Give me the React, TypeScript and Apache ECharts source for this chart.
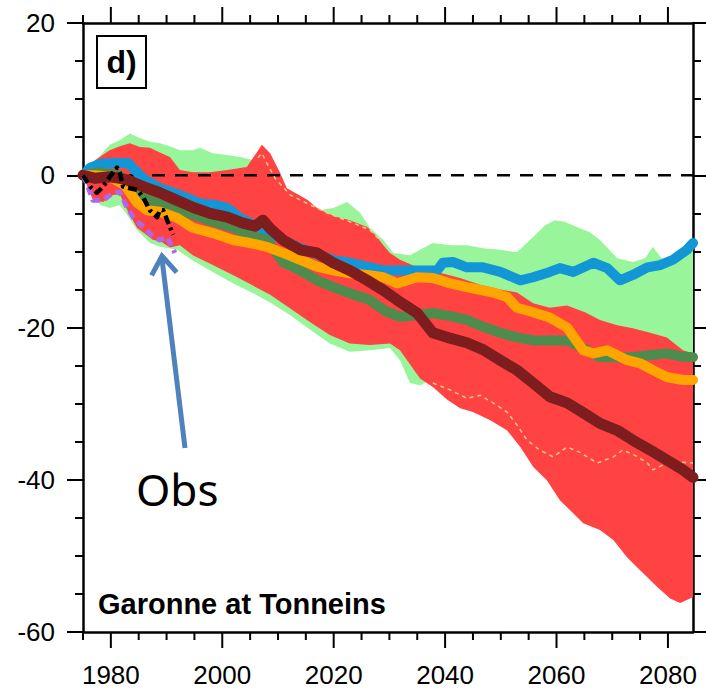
import React, { useEffect, useRef } from "react";
import * as echarts from "echarts";

type P = [number, number];

const X_MIN = 1975;
const X_MAX = 2084.5;
const Y_MIN = -60;
const Y_MAX = 20;
const X_MAJOR = [1980, 2000, 2020, 2040, 2060, 2080];
const X_MINOR = [1975, 1985, 1990, 1995, 2005, 2010, 2015, 2025, 2030, 2035, 2045, 2050, 2055, 2065, 2070, 2075];

const greenUpper: P[] = [
  [1975, 0], [1976.3, 0.7], [1978.1, 2.6], [1979.8, 4.0], [1981.6, 4.6], [1983.4, 5.5], [1985.2, 4.9],
  [1987.0, 4.4], [1988.8, 4.2], [1990.6, 3.8], [1992.4, 3.3], [1994.7, 3.3], [1996.0, 3.6], [1998.3, 2.9],
  [2000.5, 2.7], [2003.2, 2.4], [2005.5, 2.0], [2007.1, 2.0], [2008.6, 1.3], [2010.4, -0.4], [2011.6, -2.3],
  [2013.4, -3.0], [2015.4, -3.5], [2017.5, -4.6], [2019.9, -4.3], [2022.4, -3.5], [2024.7, -4.9],
  [2026.5, -6.9], [2028.9, -8.5], [2030.7, -10.2], [2033.7, -10.5], [2035.5, -9.8], [2037.8, -8.9],
  [2040.9, -9.2], [2043.9, -9.2], [2046.8, -9.6], [2049.9, -9.8], [2052.9, -10.1], [2055.8, -8.1],
  [2057.9, -6.6], [2059.7, -5.9], [2061.5, -6.1], [2063.3, -6.7], [2066.0, -7.5], [2067.8, -8.5],
  [2070.9, -10.9], [2073.7, -11.4], [2075.9, -10.9], [2077.3, -9.4], [2078.6, -10.7], [2079.8, -11.4],
  [2082.2, -10.5], [2084.5, -9.2],
];

const greenLower: P[] = [
  [1975, 0], [1976.3, -1.9], [1978.1, -3.9], [1979.8, -4.3], [1981.6, -3.9], [1982.9, -5.2], [1984.7, -7.2],
  [1987.0, -8.9], [1988.8, -9.4], [1991.9, -9.8], [1994.7, -11.2], [1998.3, -12.7], [2001.9, -14.2],
  [2005.0, -15.3], [2008.6, -16.7], [2012.2, -18.4], [2015.8, -20.3], [2019.3, -22.1], [2022.9, -23.2],
  [2026.5, -23.0], [2030.1, -22.7], [2031.9, -24.3], [2033.7, -27.3], [2035.5, -27.6], [2037.3, -26.9],
  [2040.9, -28.2], [2049.9, -29.5], [2058.8, -30.8], [2067.8, -30.2], [2076.8, -28.9], [2084.5, -28.9],
];

const redUpper: P[] = [
  [1975, 0], [1977.2, 2.0], [1979.8, 3.3], [1981.6, 3.8], [1983.4, 4.2], [1985.2, 3.7], [1987.0, 3.6],
  [1988.8, 3.0], [1990.6, 2.4], [1992.4, 0.7], [1994.7, 0.4], [1997.8, 0.4], [2000.9, 0.7], [2004.4, 1.1],
  [2006.2, 3.0], [2007.1, 4.0], [2008.6, 2.9], [2010.4, 0.3], [2011.6, -1.7], [2014.0, -2.7], [2015.4, -3.3],
  [2017.0, -4.3], [2018.8, -5.0], [2020.6, -5.5], [2022.9, -5.9], [2026.0, -6.8], [2027.8, -8.1],
  [2028.9, -9.2], [2030.1, -10.2], [2031.9, -11.1], [2035.0, -12.1], [2037.3, -12.5], [2039.6, -12.9],
  [2042.7, -13.5], [2046.3, -14.4], [2049.9, -15.0], [2052.9, -15.4], [2055.8, -16.8], [2058.8, -17.4],
  [2061.9, -17.1], [2065.1, -18.0], [2067.8, -19.0], [2070.9, -19.7], [2073.7, -20.1], [2076.8, -20.7],
  [2079.8, -21.3], [2082.7, -23.0], [2084.5, -23.4],
];

const redLower: P[] = [
  [1975, 0], [1975.9, -1.7], [1976.8, -3.3], [1978.6, -3.5], [1980.4, -2.6], [1981.6, -2.5], [1982.9, -4.5],
  [1984.7, -6.9], [1987.6, -8.5], [1988.8, -8.6], [1990.6, -9.5], [1992.4, -9.2], [1994.7, -10.5],
  [1998.3, -11.8], [2001.9, -13.1], [2005.0, -14.3], [2008.6, -15.7], [2012.2, -17.5], [2015.8, -19.3],
  [2019.3, -21.0], [2022.9, -22.1], [2026.5, -22.3], [2030.1, -22.1], [2031.9, -23.0], [2035.5, -26.7],
  [2037.8, -27.8], [2040.4, -29.5], [2042.7, -30.6], [2045.0, -31.1], [2048.1, -32.2], [2051.1, -33.5],
  [2053.5, -35.7], [2055.8, -38.3], [2058.3, -40.1], [2060.6, -42.7], [2063.0, -44.4], [2064.8, -45.7],
  [2067.8, -46.6], [2070.2, -47.9], [2072.7, -50.2], [2075.0, -51.9], [2078.1, -54.1], [2080.4, -55.6],
  [2082.2, -56.2], [2083.4, -55.8], [2084.5, -55.4],
];

const blueLine: P[] = [
  [1975, 0], [1976.3, 1.0], [1978.1, 1.5], [1980.7, 1.6], [1983.1, 1.6], [1984.3, 0.7], [1986.1, -0.6],
  [1988.8, -1.7], [1992.4, -2.6], [1996.0, -3.7], [1998.7, -3.9], [2000.9, -4.3], [2003.2, -5.6],
  [2006.8, -6.9], [2010.9, -8.5], [2014.0, -9.6], [2017.5, -10.5], [2020.2, -11.2], [2022.9, -11.5],
  [2028.9, -12.5], [2035.0, -12.5], [2038.6, -12.5], [2039.6, -11.5], [2041.4, -11.4], [2043.9, -12.1],
  [2046.8, -12.1], [2049.9, -12.7], [2053.5, -13.8], [2055.8, -13.4], [2058.8, -12.7], [2060.6, -12.2],
  [2063.0, -12.7], [2066.6, -11.5], [2069.1, -12.2], [2071.4, -13.8], [2073.7, -13.1], [2076.3, -12.1],
  [2078.6, -11.8], [2080.9, -11.1], [2083.4, -9.8], [2084.5, -8.9],
];

const darkGreenLine: P[] = [
  [1975, 0], [1978.1, 0.4], [1981.6, 0], [1984.3, -1.9], [1987.0, -3.3], [1990.6, -4.2], [1994.7, -5.2],
  [1998.3, -6.1], [2001.9, -6.9], [2005.0, -7.9], [2008.0, -8.5], [2010.9, -11.4], [2014.0, -12.5],
  [2017.0, -13.8], [2019.9, -14.7], [2022.9, -15.5], [2026.5, -16.4], [2029.2, -17.8], [2031.9, -18.6],
  [2035.0, -18.4], [2037.8, -18.1], [2040.9, -18.5], [2043.9, -19.0], [2046.8, -19.9], [2049.9, -20.7],
  [2052.9, -21.3], [2055.8, -21.7], [2058.8, -21.7], [2061.9, -21.7], [2065.5, -23.0], [2067.8, -23.9],
  [2070.9, -23.9], [2073.7, -23.9], [2076.8, -23.6], [2079.8, -23.4], [2082.2, -23.8], [2084.5, -23.9],
];

const orangeLine: P[] = [
  [1975, 0], [1977.2, 0], [1979.8, -0.2], [1982.5, -1.3], [1984.7, -3.6], [1986.5, -4.6], [1988.8, -4.8],
  [1991.9, -5.6], [1994.7, -6.9], [1998.3, -7.6], [2001.9, -8.5], [2005.0, -8.9], [2008.0, -9.4],
  [2010.9, -10.2], [2014.0, -11.1], [2017.0, -12.0], [2019.9, -12.5], [2022.9, -12.9], [2026.0, -13.1],
  [2028.9, -13.4], [2031.4, -14.2], [2035.0, -13.4], [2037.8, -13.5], [2040.9, -14.2], [2043.9, -14.7],
  [2048.6, -15.4], [2051.1, -16.0], [2052.9, -17.4], [2055.8, -18.0], [2058.8, -18.7], [2061.9, -20.0],
  [2064.8, -23.0], [2066.6, -23.4], [2069.1, -23.0], [2072.7, -24.3], [2075.0, -24.7], [2077.3, -25.6],
  [2079.8, -26.5], [2082.7, -26.9], [2084.5, -26.9],
];

const maroonLine: P[] = [
  [1975, 0], [1977.2, -0.4], [1979.8, -0.2], [1981.6, -0.4], [1982.9, -0.6], [1985.8, -1.5], [1988.8, -2.3],
  [1991.9, -3.3], [1994.7, -4.2], [1997.8, -5.0], [2000.9, -5.5], [2003.7, -6.3], [2005.9, -6.7],
  [2007.3, -5.9], [2008.6, -7.0], [2010.9, -8.5], [2014.0, -9.8], [2017.0, -10.2], [2019.9, -11.5],
  [2022.9, -12.5], [2026.0, -13.8], [2028.9, -15.1], [2031.4, -16.4], [2035.0, -18.1], [2037.8, -20.7],
  [2040.9, -21.4], [2043.9, -22.0], [2046.8, -22.9], [2049.9, -24.3], [2052.9, -25.6], [2055.8, -27.3],
  [2058.8, -29.1], [2061.9, -29.9], [2064.8, -31.2], [2067.8, -32.6], [2070.9, -33.5], [2073.7, -34.8],
  [2076.8, -36.1], [2079.8, -37.4], [2082.7, -38.7], [2084.5, -39.7],
];

const paleDashLower: P[] = [
  [2037.8, -27.3], [2040.9, -28.2], [2043.9, -29.3], [2046.3, -28.9], [2048.6, -29.9], [2051.1, -31.1],
  [2052.9, -32.8], [2054.7, -34.8], [2057.0, -36.1], [2059.4, -37.0], [2061.9, -35.7], [2064.2, -36.4],
  [2067.3, -37.8], [2070.2, -37.0], [2071.9, -36.1], [2074.1, -36.8], [2076.3, -37.8], [2077.3, -38.7],
  [2079.8, -37.8], [2082.2, -37.7], [2084.5, -37.8],
];

const paleDashUpper: P[] = [
  [2006.4, 2.3], [2007.1, 2.9], [2008.2, 1.3], [2009.5, -0.4], [2012.2, -2.6], [2015.8, -3.9],
  [2019.3, -5.1], [2022.9, -6.1], [2026.5, -7.2], [2028.3, -8.5],
];

const obsBlack: P[] = [
  [1975, 0], [1976.3, -1.5], [1977.5, -2.3], [1978.6, -1.5], [1979.8, -0.2], [1981.1, 1.0], [1981.6, 0.3],
  [1982.2, -1.5], [1983.4, -1.7], [1984.7, -1.9], [1985.8, -2.9], [1987.0, -4.6], [1988.3, -5.5],
  [1988.8, -4.6], [1989.4, -4.6], [1990.6, -6.8], [1991.2, -7.8],
];

const obsPurple: P[] = [
  [1975, 0], [1975.4, -0.6], [1976.3, -2.3], [1976.8, -3.3], [1978.6, -3.3], [1980.4, -2.3], [1981.6, -2.2],
  [1982.9, -4.2], [1984.0, -5.5], [1985.8, -6.8], [1987.6, -8.1], [1988.8, -8.5], [1990.1, -8.1],
  [1990.6, -8.9], [1991.5, -10.2],
];

const zeroLine: P[] = [[X_MIN, 0], [X_MAX, 0]];

const FONT = '"Liberation Sans", Arial, Helvetica, sans-serif';

function band(name: string, upper: P[], lower: P[], color: string, z: number) {
  return {
    type: "custom",
    name,
    coordinateSystem: "cartesian2d",
    xAxisIndex: 0,
    yAxisIndex: 0,
    z,
    silent: true,
    data: [upper[0]],
    renderItem: (_params: any, api: any) => {
      const pts = [...upper, ...lower.slice().reverse()].map((p) => api.coord(p));
      return { type: "polygon", shape: { points: pts }, style: { fill: color } };
    },
  };
}

function line(name: string, data: P[], color: string, width: number, z: number, dash?: number[]) {
  return {
    type: "line",
    name,
    data,
    z,
    xAxisIndex: 0,
    yAxisIndex: 0,
    symbol: "none",
    showSymbol: false,
    silent: true,
    lineStyle: dash
      ? { color, width, type: dash, dashOffset: 0, cap: "butt", join: "round" }
      : { color, width, type: "solid", cap: "round", join: "round" },
  };
}

const staticGraphics: any[] = [
  {
    id: "dbox",
    type: "rect",
    z: 100,
    shape: { x: 97, y: 36, width: 49, height: 52 },
    style: { fill: "#fff", stroke: "#000", lineWidth: 2 },
  },
  {
    id: "dtext",
    type: "text",
    z: 101,
    x: 121.5,
    y: 62,
    style: { text: "d)", fontSize: 32, fontWeight: "bold", fontFamily: FONT, fill: "#000", align: "center", verticalAlign: "middle" },
  },
  {
    id: "title",
    type: "text",
    z: 101,
    x: 98,
    y: 603.5,
    style: { text: "Garonne at Tonneins", fontSize: 29, fontWeight: "bold", fontFamily: FONT, fill: "#000", align: "left", verticalAlign: "middle" },
  },
  {
    id: "obs",
    type: "text",
    z: 101,
    x: 136,
    y: 489,
    style: { text: "Obs", fontSize: 44, fontFamily: '"Noto Sans", "Open Sans", sans-serif', fill: "#000", align: "left", verticalAlign: "middle" },
  },
  {
    id: "arrowShaft",
    type: "line",
    z: 101,
    shape: { x1: 185, y1: 448, x2: 162, y2: 259 },
    style: { stroke: "#4F81BD", lineWidth: 5 },
  },
  {
    id: "arrowHead",
    type: "polyline",
    z: 101,
    shape: { points: [[151.6, 275.4], [162, 256], [176.7, 272.4]] },
    style: { stroke: "#4F81BD", lineWidth: 5, fill: null, lineJoin: "miter" },
  },
];

export default function App() {
  const ref = useRef<HTMLDivElement>(null);
  useEffect(() => {
    document.body.style.margin = "0";
    if (!ref.current) return;
    const chart = echarts.init(ref.current, undefined, { renderer: "svg" });
    const axisLine = { show: true, onZero: false, lineStyle: { color: "#000", width: 2.5 } };
    chart.setOption({
      animation: false,
      backgroundColor: "#fff",
      grid: { left: 83, right: 13, top: 23, bottom: 60, containLabel: false, outerBoundsMode: "none" },
      xAxis: [
        {
          type: "value",
          min: X_MIN,
          max: X_MAX,
          position: "bottom",
          splitLine: { show: false },
          axisLine,
          axisTick: { show: false },
          axisLabel: {
            show: true,
            customValues: X_MAJOR,
            formatter: (v: number) => String(v),
            fontSize: 26,
            fontFamily: FONT,
            color: "#000",
            margin: 30,
          },
        },
        {
          type: "value",
          min: X_MIN,
          max: X_MAX,
          position: "top",
          splitLine: { show: false },
          axisLine,
          axisTick: { show: false },
          axisLabel: { show: false },
        },
      ],
      yAxis: [
        {
          type: "value",
          min: Y_MIN,
          max: Y_MAX,
          interval: 20,
          position: "left",
          splitLine: { show: false },
          axisLine,
          axisTick: { show: true, length: 16, lineStyle: { color: "#000", width: 2 } },
          minorTick: { show: true, splitNumber: 4, length: 8, lineStyle: { color: "#000", width: 2 } },
          axisLabel: { fontSize: 26, fontFamily: FONT, color: "#000", margin: 28 },
        },
        {
          type: "value",
          min: Y_MIN,
          max: Y_MAX,
          interval: 20,
          position: "right",
          splitLine: { show: false },
          axisLine,
          axisTick: { show: true, length: 16, lineStyle: { color: "#000", width: 2 } },
          minorTick: { show: true, splitNumber: 4, length: 8, lineStyle: { color: "#000", width: 2 } },
          axisLabel: { show: false },
        },
      ],
      series: [
        band("green envelope", greenUpper, greenLower, "#99F599", 1),
        band("red envelope", redUpper, redLower, "#FF4242", 2),
        line("zero", zeroLine, "#000", 2.5, 3, [13, 10]),
        line("pale upper", paleDashUpper, "#F5C98A", 1.5, 4, [4, 4]),
        line("pale lower", paleDashLower, "#F5C98A", 1.5, 4, [4, 4]),
        line("blue", blueLine, "#1396D5", 10, 5),
        line("dark green", darkGreenLine, "#4E8C4E", 10, 6),
        line("orange", orangeLine, "#FFA500", 10, 7),
        line("maroon", maroonLine, "#7D1D1D", 11, 8),
        line("obs purple", obsPurple, "#B066E6", 5, 9, [8, 5]),
        line("obs black", obsBlack, "#000", 4.5, 10, [9, 4, 3, 4]),
      ],
      graphic: staticGraphics,
    });

    // x-axis ticks (major + minor) on bottom and top, positioned through the axis scale
    const tickEls: any[] = [];
    const addTicks = (vals: number[], len: number, tag: string) => {
      vals.forEach((v, i) => {
        const b = chart.convertToPixel({ xAxisIndex: 0, yAxisIndex: 0 }, [v, Y_MIN]) as number[];
        const t = chart.convertToPixel({ xAxisIndex: 0, yAxisIndex: 0 }, [v, Y_MAX]) as number[];
        tickEls.push({ id: `${tag}b${i}`, type: "line", z: 50, shape: { x1: b[0], y1: b[1], x2: b[0], y2: b[1] + len }, style: { stroke: "#000", lineWidth: 2 } });
        tickEls.push({ id: `${tag}t${i}`, type: "line", z: 50, shape: { x1: t[0], y1: t[1], x2: t[0], y2: t[1] - len }, style: { stroke: "#000", lineWidth: 2 } });
      });
    };
    addTicks(X_MAJOR, 16, "M");
    addTicks(X_MINOR, 8, "m");
    chart.setOption({ graphic: [...staticGraphics, ...tickEls] });

    return () => chart.dispose();
  }, []);
  return <div ref={ref} style={{ width: 706, height: 692 }} />;
}
